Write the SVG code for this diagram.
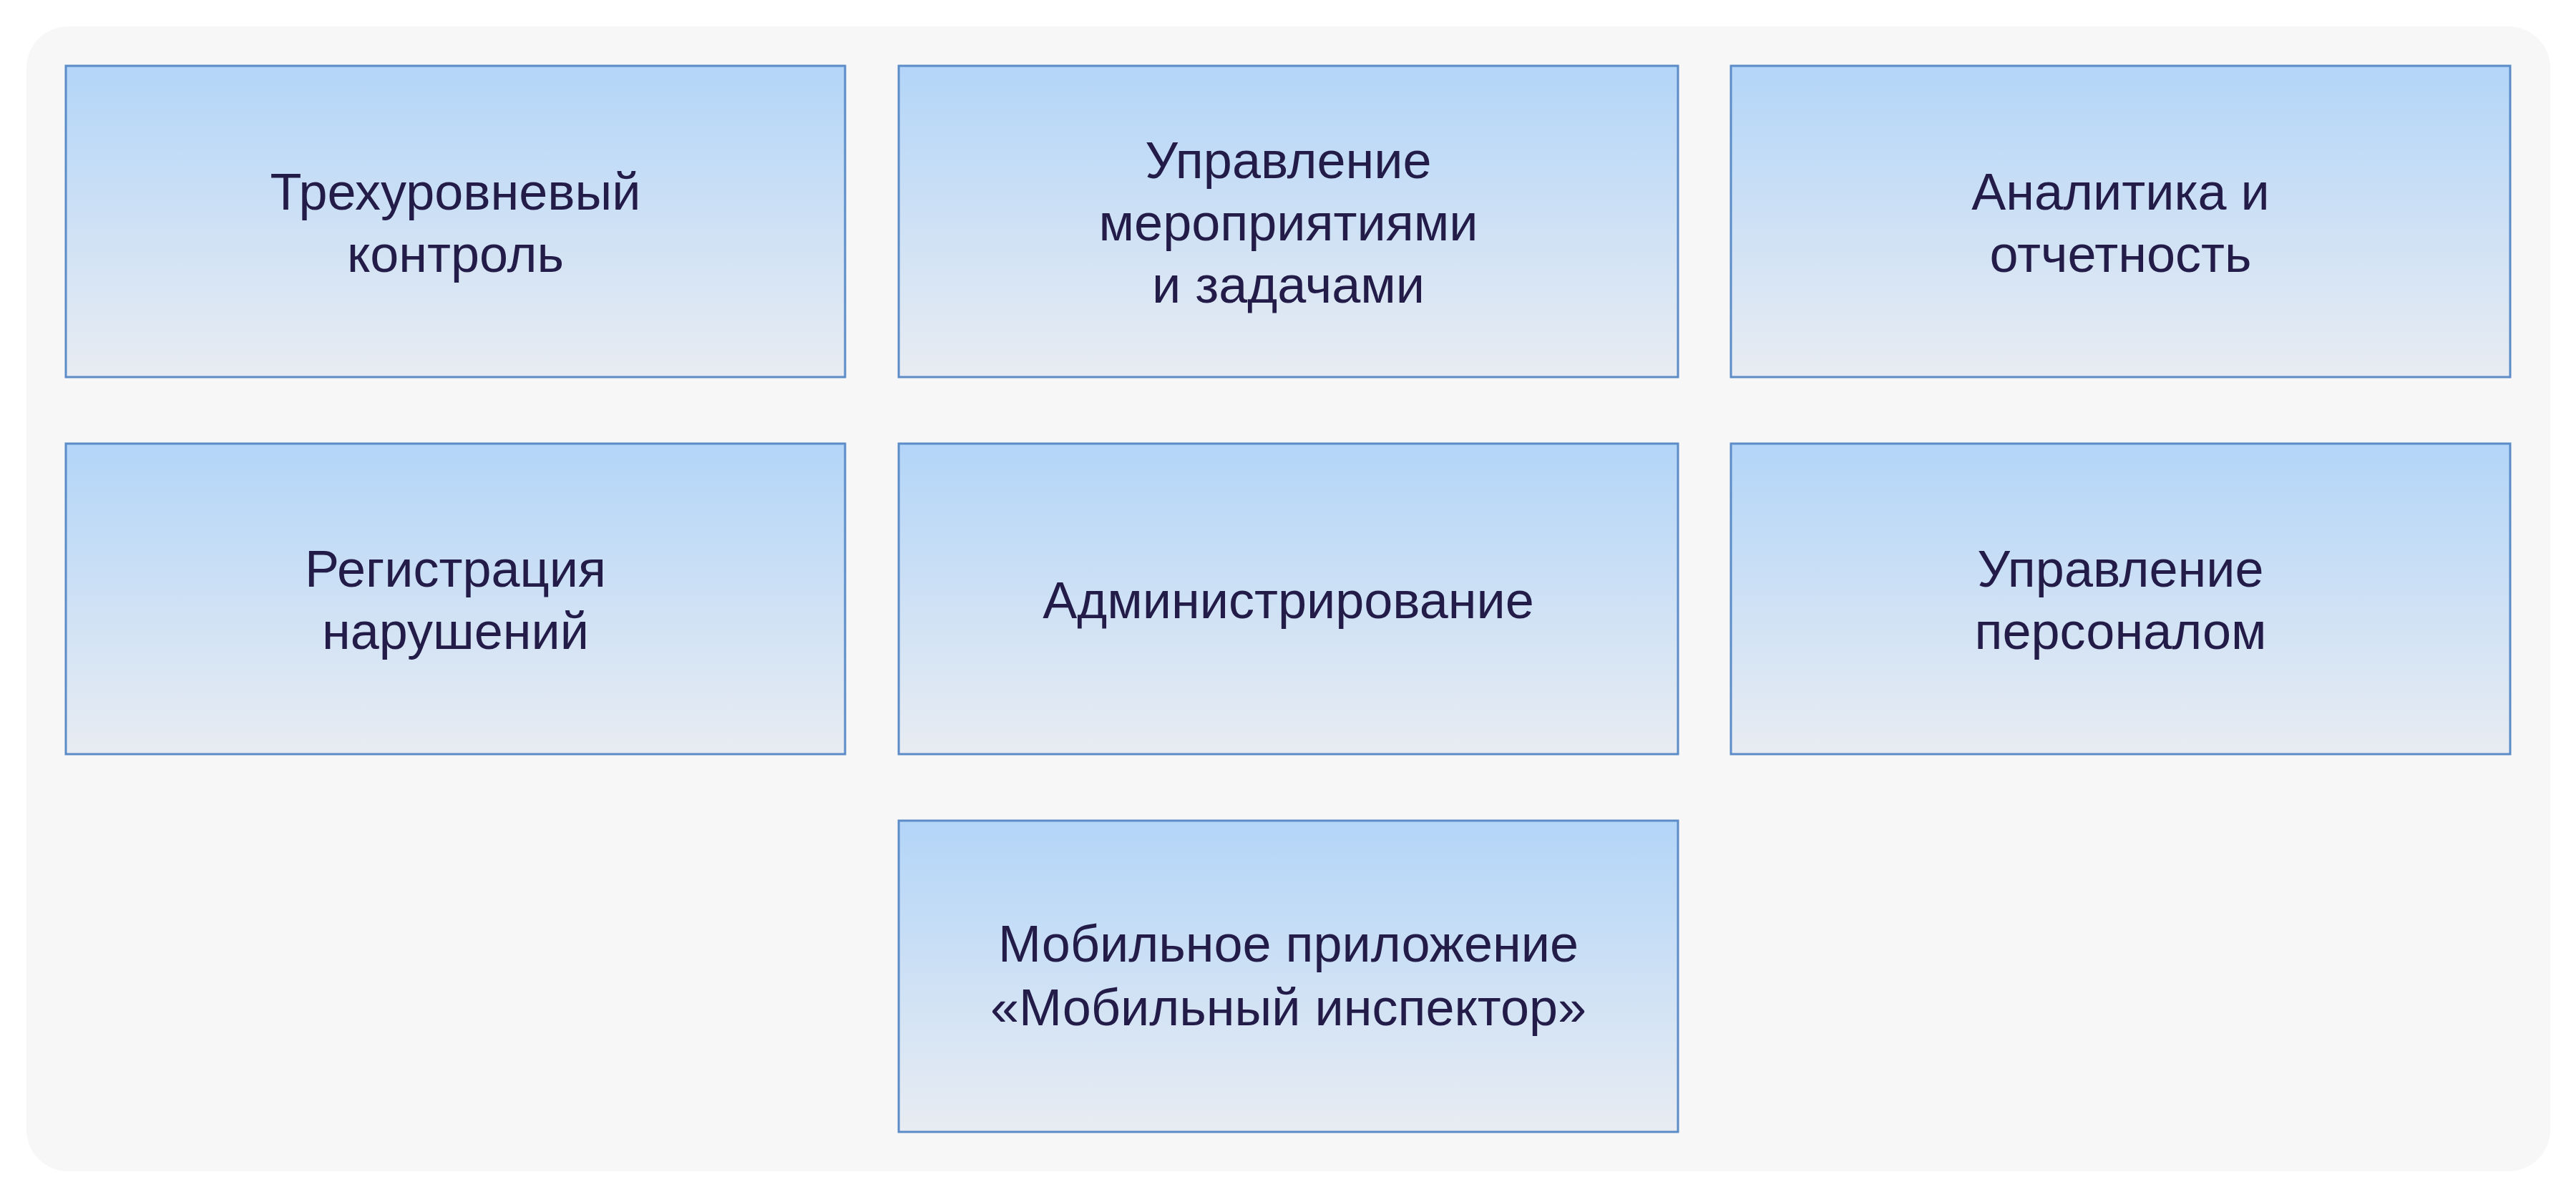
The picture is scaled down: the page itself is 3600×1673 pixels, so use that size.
<svg xmlns="http://www.w3.org/2000/svg" width="3600" height="1673" viewBox="0 0 3600 1673">
<defs>
<linearGradient id="boxGrad" x1="0" y1="0" x2="0" y2="1">
<stop offset="0" stop-color="#b3d5f8"/>
<stop offset="1" stop-color="#e8ecf2"/>
</linearGradient>
</defs>
<style>
.box{fill:url(#boxGrad);stroke:#5b8cc8;stroke-width:3}
.lbl{font-family:"Liberation Sans",Arial,sans-serif;font-size:72px;fill:#231b48;text-anchor:middle}
</style>
<rect x="0" y="0" width="3600" height="1673" fill="#ffffff"/>
<rect x="37" y="37" width="3527" height="1600" rx="58" ry="58" fill="#f7f7f7"/>
<g id="connectors"/>
<g id="node-control">
<rect class="box" x="92" y="92" width="1089" height="435"/>
<text class="lbl" x="636.5" y="293">Трехуровневый</text>
<text class="lbl" x="636.5" y="380">контроль</text>
</g>
<g id="node-tasks">
<rect class="box" x="1256" y="92" width="1089" height="435"/>
<text class="lbl" x="1800.5" y="249">Управление</text>
<text class="lbl" x="1800.5" y="336">мероприятиями</text>
<text class="lbl" x="1800.5" y="423">и задачами</text>
</g>
<g id="node-analytics">
<rect class="box" x="2419" y="92" width="1089" height="435"/>
<text class="lbl" x="2963.5" y="293">Аналитика и</text>
<text class="lbl" x="2963.5" y="380">отчетность</text>
</g>
<g id="node-violations">
<rect class="box" x="92" y="620" width="1089" height="434"/>
<text class="lbl" x="636.5" y="820">Регистрация</text>
<text class="lbl" x="636.5" y="907">нарушений</text>
</g>
<g id="node-admin">
<rect class="box" x="1256" y="620" width="1089" height="434"/>
<text class="lbl" x="1800.5" y="864">Администрирование</text>
</g>
<g id="node-staff">
<rect class="box" x="2419" y="620" width="1089" height="434"/>
<text class="lbl" x="2963.5" y="820">Управление</text>
<text class="lbl" x="2963.5" y="907">персоналом</text>
</g>
<g id="node-mobile">
<rect class="box" x="1256" y="1147" width="1089" height="435"/>
<text class="lbl" x="1800.5" y="1344">Мобильное приложение</text>
<text class="lbl" x="1800.5" y="1433">«Мобильный инспектор»</text>
</g>
</svg>
